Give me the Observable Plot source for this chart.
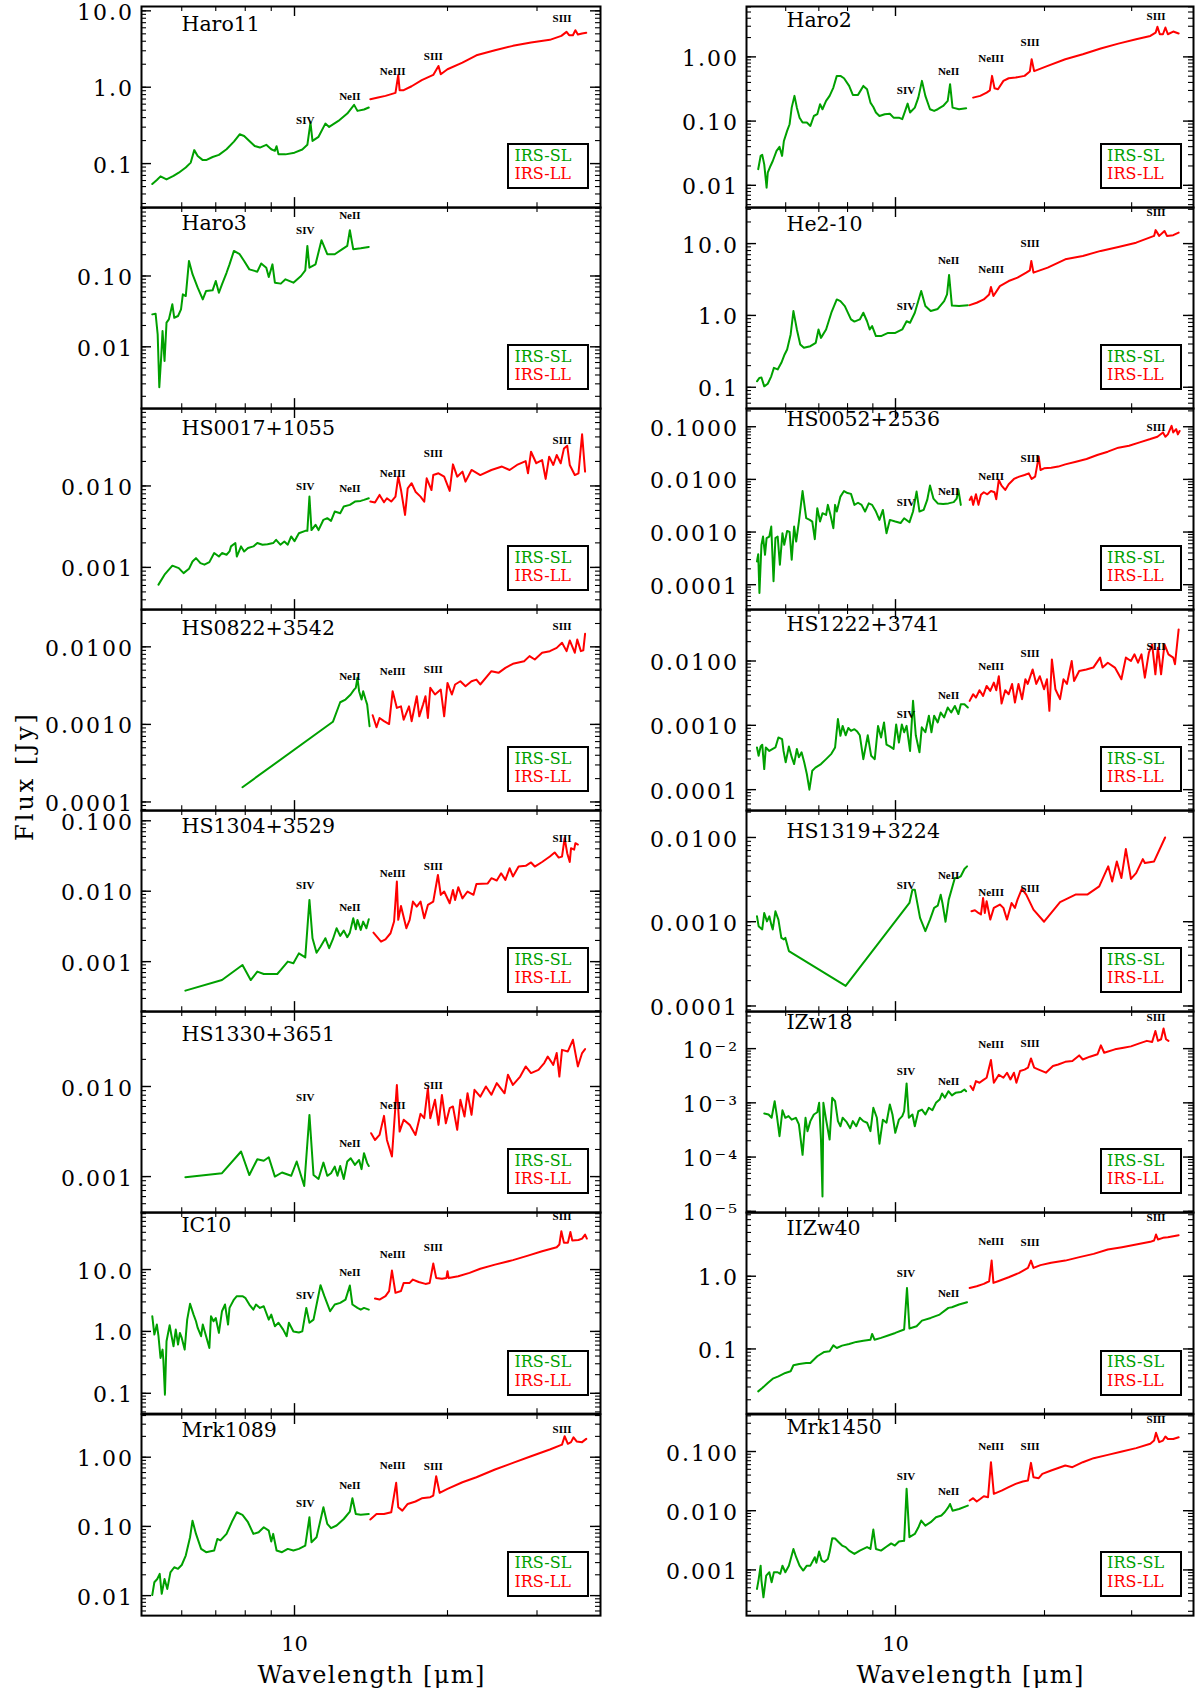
<!DOCTYPE html>
<html><head><meta charset="utf-8">
<script src="https://cdn.jsdelivr.net/npm/d3@7"></script>
<script src="https://cdn.jsdelivr.net/npm/@observablehq/plot@0.6"></script>
<style>
body{margin:0;background:#fff;}
#root{position:relative;width:1196px;height:1691px;overflow:hidden;font-family:"DejaVu Serif",serif;}
#root svg{position:absolute;}
.legend{position:absolute;box-sizing:border-box;width:82px;height:46px;border:2px solid #000;font-family:"DejaVu Serif",serif;font-size:16px;line-height:18.3px;padding:1.7px 0 0 5px;white-space:nowrap;}
.ylab{position:absolute;width:220px;height:30px;line-height:30px;text-align:center;font-family:"DejaVu Serif",serif;font-size:24px;letter-spacing:3px;transform:rotate(-90deg);transform-origin:50% 50%;}
</style></head><body><div id="root"></div>
<script>
// ---------------- data (wavelength in micron, flux in Jy) ----------------
const panelNames = ["Haro11","Haro3","HS0017+1055","HS0822+3542","HS1304+3529","HS1330+3651","IC10","Mrk1089",
                    "Haro2","He2-10","HS0052+2536","HS1222+3741","HS1319+3224","IZw18","IIZw40","Mrk1450"];
const seriesNames = ["IRS-SL","IRS-LL"];
const xMajorTicks = [10];
const xMajorLabels = ["10"];
const xMinorTicks = [6,7,8,9,20,30];
const xAxisLabel = "Wavelength [\u03bcm]";
const yAxisLabel = "Flux [Jy]";

const haro11_SL = [[5.25,0.054],[5.36,0.061],[5.45,0.068],[5.6,0.062],[5.78,0.069],[5.92,0.076],[6.11,0.089],[6.25,0.103],[6.35,0.15],[6.45,0.126],[6.6,0.111],[6.7,0.111],[6.9,0.122],[7.1,0.13],[7.35,0.154],[7.6,0.194],[7.8,0.242],[7.96,0.23],[8.15,0.198],[8.35,0.17],[8.55,0.162],[8.8,0.176],[9.0,0.154],[9.15,0.147],[9.22,0.169],[9.3,0.132],[9.6,0.132],[10.0,0.139],[10.36,0.153],[10.6,0.176],[10.75,0.344],[10.85,0.198],[11.15,0.224],[11.5,0.334],[11.7,0.302],[12.2,0.362],[12.7,0.452],[13.1,0.587],[13.3,0.49],[13.7,0.51],[14.0,0.542]];
const haro11_LL = [[14.1,0.697],[14.6,0.732],[15.1,0.77],[15.8,0.843],[16.0,1.45],[16.1,0.914],[16.4,0.914],[17.0,1.03],[17.8,1.24],[18.75,1.45],[19.2,1.9],[19.4,1.48],[20.0,1.72],[21.4,2.1],[22.8,2.62],[24.8,3.05],[26.9,3.48],[29.2,3.85],[31.8,4.17],[33.5,4.7],[34.3,5.31],[34.7,4.8],[35.3,4.8],[35.7,5.58],[36.1,4.9],[36.8,5.05],[37.5,5.15]];
const haro3_SL = [[5.25,0.0287],[5.33,0.0293],[5.38,0.015],[5.42,0.00268],[5.47,0.0078],[5.5,0.0167],[5.55,0.0063],[5.6,0.0219],[5.66,0.0244],[5.75,0.0398],[5.8,0.0257],[5.9,0.0272],[5.98,0.0337],[6.03,0.055],[6.11,0.0521],[6.2,0.163],[6.3,0.106],[6.45,0.0684],[6.6,0.0467],[6.7,0.0614],[6.9,0.0627],[7.0,0.085],[7.1,0.058],[7.2,0.0762],[7.35,0.111],[7.45,0.146],[7.6,0.226],[7.8,0.203],[7.96,0.163],[8.15,0.124],[8.45,0.115],[8.6,0.15],[8.8,0.131],[8.9,0.097],[9.05,0.146],[9.15,0.0805],[9.4,0.078],[9.6,0.0897],[9.95,0.0805],[10.3,0.1],[10.5,0.12],[10.6,0.266],[10.7,0.131],[11.0,0.146],[11.3,0.32],[11.6,0.203],[12.0,0.203],[12.4,0.238],[12.7,0.266],[12.85,0.443],[13.05,0.238],[13.5,0.246],[14.0,0.257]];
const haro3_LL = [];
const hs0017_SL = [[5.4,0.000614],[5.55,0.000813],[5.75,0.00105],[5.92,0.00098],[6.05,0.00085],[6.2,0.00096],[6.3,0.00118],[6.4,0.0013],[6.53,0.00113],[6.65,0.00108],[6.8,0.00116],[6.95,0.0015],[7.1,0.00136],[7.2,0.0015],[7.35,0.00143],[7.45,0.00157],[7.5,0.00181],[7.65,0.00199],[7.7,0.00136],[7.85,0.00181],[7.96,0.00157],[8.1,0.00173],[8.3,0.00181],[8.45,0.00199],[8.65,0.0019],[8.85,0.00192],[9.08,0.00199],[9.2,0.00218],[9.38,0.0019],[9.55,0.00208],[9.7,0.0019],[9.85,0.0024],[10.0,0.0021],[10.2,0.00263],[10.5,0.00281],[10.6,0.00281],[10.7,0.0074],[10.8,0.00287],[11.0,0.00333],[11.15,0.00287],[11.4,0.00384],[11.6,0.00402],[11.8,0.00373],[12.0,0.00485],[12.3,0.00463],[12.5,0.00558],[12.85,0.00585],[13.15,0.00643],[13.5,0.00655],[13.7,0.00674],[14.0,0.00706]];
const hs0017_LL = [[14.1,0.00643],[14.4,0.00625],[14.7,0.00776],[15.0,0.0063],[15.2,0.00706],[15.5,0.00643],[15.8,0.0074],[16.0,0.013],[16.2,0.00893],[16.5,0.00441],[16.7,0.00936],[17.0,0.0108],[17.3,0.0085],[17.7,0.0074],[18.0,0.0064],[18.2,0.0124],[18.6,0.0089],[18.75,0.0136],[19.2,0.0143],[19.7,0.013],[20.2,0.0087],[20.5,0.0184],[20.9,0.013],[21.4,0.015],[21.7,0.0113],[22.3,0.0157],[23.2,0.0136],[24.4,0.0157],[25.6,0.0173],[26.5,0.0157],[27.4,0.0181],[28.5,0.0202],[28.8,0.0143],[29.2,0.0263],[29.9,0.019],[30.7,0.0208],[31.2,0.0122],[31.7,0.0229],[32.3,0.0181],[32.8,0.024],[33.4,0.019],[33.9,0.0289],[34.4,0.0312],[34.8,0.0181],[35.6,0.0136],[36.2,0.0143],[36.8,0.043],[37.3,0.015]];
const hs0822_SL = [[7.9,0.000155],[11.9,0.00108],[12.3,0.00193],[12.6,0.00209],[12.9,0.00243],[13.1,0.00281],[13.2,0.00296],[13.3,0.00398],[13.4,0.00268],[13.55,0.00209],[13.65,0.00268],[13.8,0.00209],[13.9,0.0018],[14.05,0.000946]];
const hs0822_LL = [[14.25,0.00131],[14.5,0.000918],[14.7,0.00121],[15.0,0.0011],[15.35,0.00101],[15.6,0.00268],[15.9,0.00163],[16.2,0.00171],[16.4,0.00115],[16.8,0.00171],[17.0,0.0011],[17.4,0.00231],[17.6,0.00127],[17.9,0.0018],[18.1,0.00231],[18.3,0.00121],[18.5,0.00296],[18.9,0.00243],[19.4,0.00281],[19.7,0.00127],[20.0,0.00343],[20.4,0.00243],[20.7,0.00327],[21.2,0.0036],[21.7,0.00311],[22.3,0.0036],[22.8,0.00378],[23.2,0.00327],[24.4,0.00485],[25.2,0.00462],[26.0,0.00536],[26.9,0.00604],[28.3,0.00653],[29.0,0.00759],[29.7,0.00686],[30.7,0.00837],[31.8,0.00879],[32.8,0.0097],[33.6,0.0113],[34.3,0.0088],[34.8,0.0121],[35.6,0.0084],[36.0,0.0124],[36.6,0.0088],[37.0,0.009],[37.3,0.0147]];
const hs1304_SL = [[6.1,0.000387],[7.2,0.000548],[7.9,0.000897],[8.2,0.000548],[8.45,0.000721],[8.7,0.000668],[9.25,0.000668],[9.4,0.000762],[9.7,0.001],[9.95,0.00095],[10.2,0.00131],[10.5,0.00115],[10.7,0.00753],[10.85,0.00215],[11.05,0.00134],[11.25,0.00163],[11.45,0.00203],[11.5,0.00215],[11.7,0.00155],[11.9,0.00208],[12.1,0.00298],[12.3,0.00232],[12.5,0.00276],[12.7,0.00222],[12.85,0.00258],[13.05,0.00413],[13.2,0.00288],[13.3,0.00391],[13.5,0.00282],[13.65,0.0037],[13.85,0.00298],[14.0,0.004]];
const hs1304_LL = [[14.3,0.00258],[14.8,0.00192],[15.1,0.00207],[15.45,0.00253],[15.7,0.00371],[15.9,0.0137],[16.0,0.00392],[16.2,0.00617],[16.6,0.00298],[16.85,0.00392],[17.1,0.00713],[17.4,0.00605],[17.7,0.00713],[18.0,0.00413],[18.3,0.00639],[18.75,0.0071],[19.15,0.017],[19.4,0.00887],[19.7,0.0099],[20.2,0.00675],[20.5,0.0104],[20.7,0.0075],[21.0,0.0114],[21.4,0.0079],[21.9,0.0099],[22.5,0.0089],[22.8,0.0127],[24.0,0.0129],[24.4,0.0153],[25.0,0.0142],[25.5,0.018],[26.0,0.0145],[26.5,0.0212],[26.9,0.0162],[27.6,0.0224],[28.5,0.0229],[29.2,0.0256],[29.7,0.0224],[30.7,0.026],[31.8,0.0311],[32.5,0.0355],[33.1,0.03],[33.6,0.031],[34.0,0.0568],[34.4,0.0347],[34.8,0.026],[35.0,0.0408],[35.5,0.039],[35.7,0.0481],[36.1,0.046]];
const hs1330_SL = [[6.1,0.000985],[7.2,0.00109],[7.85,0.0019],[8.15,0.00104],[8.45,0.00156],[8.7,0.0015],[8.9,0.00164],[9.15,0.001],[9.45,0.00111],[9.85,0.00102],[10.1,0.00147],[10.45,0.000787],[10.7,0.00484],[10.9,0.00104],[11.15,0.00094],[11.4,0.00143],[11.6,0.00102],[11.8,0.00109],[12.0,0.00129],[12.15,0.00102],[12.3,0.00131],[12.5,0.00094],[12.7,0.00147],[12.9,0.0016],[13.15,0.00135],[13.4,0.00153],[13.55,0.00121],[13.7,0.00182],[13.9,0.00141],[14.0,0.00131]];
const hs1330_LL = [[14.15,0.00303],[14.4,0.00255],[14.7,0.0029],[15.0,0.00472],[15.2,0.00255],[15.55,0.00167],[15.9,0.0104],[16.1,0.00316],[16.4,0.00427],[16.85,0.00375],[17.3,0.0029],[17.7,0.00497],[18.0,0.00445],[18.3,0.00958],[18.5,0.00445],[18.9,0.00711],[19.2,0.00375],[19.5,0.00807],[19.85,0.0039],[20.2,0.00574],[20.5,0.006],[20.9,0.0033],[21.2,0.00711],[21.6,0.00464],[21.9,0.00844],[22.3,0.00484],[22.6,0.00918],[23.2,0.0077],[23.8,0.01],[24.4,0.0081],[25.0,0.0109],[25.9,0.0084],[26.3,0.0135],[26.9,0.0104],[27.8,0.0129],[28.5,0.0167],[29.2,0.0141],[30.2,0.0153],[31.0,0.0182],[31.5,0.0215],[32.3,0.0174],[32.8,0.0235],[33.2,0.0129],[33.6,0.0255],[34.5,0.0245],[35.3,0.033],[36.1,0.0167],[36.8,0.0235],[37.3,0.026]];
const ic10_SL = [[5.25,1.76],[5.3,0.89],[5.36,1.29],[5.4,0.836],[5.45,0.373],[5.5,0.508],[5.52,0.35],[5.56,0.095],[5.6,0.693],[5.68,1.26],[5.73,0.84],[5.78,0.575],[5.84,1.07],[5.9,0.612],[5.95,0.946],[6.0,0.785],[6.08,0.508],[6.15,1.55],[6.23,2.79],[6.33,1.87],[6.4,1.46],[6.45,1.14],[6.55,0.836],[6.6,1.29],[6.7,0.836],[6.8,0.541],[6.85,1.76],[6.93,1.46],[7.0,1.65],[7.1,0.946],[7.2,2.12],[7.3,2.72],[7.4,1.29],[7.45,2.4],[7.6,3.27],[7.7,3.71],[7.9,3.71],[8.0,3.5],[8.15,2.72],[8.3,2.25],[8.4,2.72],[8.55,2.4],[8.7,2.55],[8.9,1.55],[9.0,1.87],[9.15,1.21],[9.3,1.38],[9.5,1.07],[9.65,0.836],[9.75,1.38],[9.95,1.0],[10.2,0.96],[10.36,1.0],[10.55,2.4],[10.7,1.38],[10.9,1.55],[11.25,5.59],[11.45,3.71],[11.75,2.12],[12.0,2.72],[12.3,2.89],[12.6,3.27],[12.85,5.51],[13.0,2.72],[13.3,2.4],[13.5,2.25],[13.7,2.4],[14.0,2.25]];
const ic10_LL = [[14.4,3.4],[14.7,3.27],[15.1,3.71],[15.35,4.47],[15.55,9.64],[15.8,4.2],[16.2,4.5],[16.4,6.08],[16.85,6.08],[17.1,6.89],[17.55,6.3],[18.1,5.86],[18.45,6.08],[18.75,12.5],[19.0,7.33],[19.5,7.1],[19.9,7.33],[20.0,9.4],[20.1,7.33],[21.0,7.8],[22.1,8.83],[23.2,10.3],[24.8,12.0],[26.9,14.2],[28.8,16.8],[30.7,19.8],[32.8,22.9],[33.2,25.4],[33.5,41.7],[33.9,27],[34.5,27],[34.9,40.6],[35.2,29.4],[36.2,30],[36.8,31.7],[37.3,36.8],[37.6,31.7]];
const mrk1089_SL = [[5.25,0.0102],[5.3,0.0156],[5.37,0.0174],[5.43,0.0206],[5.48,0.0106],[5.55,0.0174],[5.62,0.0125],[5.7,0.0217],[5.8,0.0257],[5.9,0.0244],[6.0,0.0277],[6.11,0.0379],[6.23,0.0697],[6.3,0.121],[6.4,0.078],[6.55,0.0473],[6.7,0.0424],[6.95,0.0448],[7.05,0.066],[7.15,0.0627],[7.35,0.078],[7.55,0.121],[7.7,0.16],[7.9,0.147],[8.1,0.115],[8.3,0.078],[8.5,0.0825],[8.7,0.0973],[8.9,0.0868],[9.0,0.0604],[9.08,0.078],[9.22,0.0448],[9.45,0.0424],[9.7,0.0473],[9.95,0.0448],[10.2,0.0473],[10.5,0.0528],[10.7,0.136],[10.8,0.059],[11.05,0.0697],[11.4,0.189],[11.6,0.109],[11.8,0.0944],[12.1,0.103],[12.5,0.128],[12.85,0.164],[13.0,0.255],[13.2,0.151],[13.5,0.147],[14.0,0.151]];
const mrk1089_LL = [[14.1,0.126],[14.5,0.151],[15.0,0.151],[15.5,0.16],[15.85,0.426],[16.0,0.189],[16.3,0.169],[16.7,0.211],[17.3,0.229],[17.8,0.255],[18.5,0.264],[18.75,0.279],[19.0,0.531],[19.3,0.305],[20.0,0.348],[21.4,0.435],[22.8,0.514],[24.8,0.664],[26.9,0.828],[29.2,1.03],[31.8,1.29],[33.6,1.52],[34.0,2.01],[34.5,1.56],[35.0,1.65],[35.4,1.94],[35.9,1.69],[36.8,1.65],[37.5,1.84]];
const haro2_SL = [[5.28,0.0178],[5.34,0.0287],[5.38,0.0298],[5.43,0.0212],[5.49,0.0092],[5.52,0.0157],[5.59,0.02],[5.65,0.0239],[5.75,0.0343],[5.83,0.0396],[5.9,0.0287],[5.95,0.049],[6.04,0.0703],[6.11,0.0893],[6.17,0.162],[6.25,0.247],[6.32,0.162],[6.4,0.113],[6.49,0.0948],[6.62,0.0948],[6.73,0.0841],[6.84,0.12],[6.95,0.128],[7.04,0.183],[7.12,0.153],[7.24,0.206],[7.36,0.247],[7.49,0.333],[7.61,0.506],[7.74,0.506],[7.87,0.465],[8.06,0.353],[8.2,0.256],[8.4,0.256],[8.61,0.353],[8.76,0.313],[8.9,0.194],[9.02,0.166],[9.13,0.136],[9.28,0.12],[9.51,0.128],[9.74,0.13],[9.91,0.113],[10.16,0.113],[10.32,0.107],[10.46,0.144],[10.58,0.187],[10.7,0.136],[10.94,0.162],[11.12,0.232],[11.31,0.423],[11.49,0.247],[11.74,0.153],[11.97,0.144],[12.17,0.153],[12.48,0.172],[12.75,0.206],[12.89,0.375],[13.04,0.162],[13.44,0.153],[13.89,0.158]];
const haro2_LL = [[14.35,0.232],[14.83,0.247],[15.28,0.278],[15.51,0.3],[15.67,0.506],[15.85,0.325],[16.11,0.314],[16.52,0.423],[16.93,0.465],[17.49,0.476],[18.23,0.506],[18.68,0.591],[18.84,0.92],[19.06,0.6],[20.3,0.724],[22.03,0.92],[23.9,1.1],[25.98,1.35],[28.2,1.61],[30.63,1.88],[32.72,2.12],[33.54,2.39],[33.82,2.94],[34.2,2.25],[34.7,2.25],[35.1,2.87],[35.5,2.25],[36.4,2.48],[37.33,2.31]];
const he210_SL = [[5.25,0.121],[5.31,0.135],[5.36,0.137],[5.43,0.103],[5.52,0.112],[5.61,0.142],[5.68,0.186],[5.78,0.177],[5.88,0.219],[5.97,0.286],[6.04,0.336],[6.14,0.543],[6.22,1.15],[6.32,0.638],[6.42,0.394],[6.53,0.354],[6.73,0.373],[6.9,0.416],[6.99,0.638],[7.07,0.487],[7.24,0.638],[7.42,1.09],[7.61,1.67],[7.74,1.58],[7.9,1.35],[8.13,0.879],[8.26,0.82],[8.47,0.879],[8.61,1.09],[8.76,0.83],[8.87,0.638],[8.97,0.71],[9.13,0.515],[9.35,0.515],[9.66,0.57],[9.99,0.57],[10.32,0.638],[10.53,0.83],[10.7,0.79],[10.94,1.09],[11.27,2.19],[11.49,1.35],[11.78,1.15],[12.17,1.23],[12.54,1.58],[12.71,1.96],[12.83,3.66],[13.0,1.37],[13.44,1.35],[14.0,1.39]];
const he210_LL = [[14.12,1.39],[14.59,1.5],[15.08,1.67],[15.46,1.96],[15.59,2.48],[15.77,1.86],[16.25,2.56],[16.93,3.01],[17.64,3.36],[18.37,3.94],[18.68,4.24],[18.81,5.73],[19.0,3.94],[20.3,4.63],[22.03,6.04],[23.9,6.73],[25.98,7.91],[28.2,8.98],[30.63,10.3],[33.3,12.8],[33.54,15.4],[34.1,12.8],[34.95,15.0],[35.35,12.8],[36.4,13.1],[37.33,14.2]];
const hs0052_SL = [[5.25,0.000277],[5.28,0.00038],[5.31,0.0000695],[5.36,0.000571],[5.4,0.000822],[5.45,0.00037],[5.49,0.000766],[5.56,0.000822],[5.61,0.00127],[5.67,0.000116],[5.72,0.000766],[5.78,0.000822],[5.84,0.000239],[5.91,0.000953],[5.96,0.000571],[6.04,0.00105],[6.11,0.001],[6.17,0.000297],[6.24,0.00127],[6.3,0.00066],[6.38,0.00158],[6.49,0.006],[6.6,0.00183],[6.71,0.0017],[6.79,0.00158],[6.87,0.000733],[6.95,0.00283],[7.04,0.00158],[7.12,0.00228],[7.24,0.00211],[7.3,0.00328],[7.39,0.00211],[7.49,0.00118],[7.55,0.00328],[7.61,0.00245],[7.74,0.00471],[7.87,0.006],[8.0,0.0055],[8.13,0.0053],[8.26,0.00328],[8.4,0.0036],[8.54,0.00328],[8.68,0.00245],[8.83,0.0035],[8.97,0.00328],[9.13,0.00245],[9.28,0.0017],[9.43,0.00263],[9.59,0.000953],[9.74,0.0017],[9.99,0.00158],[10.24,0.00148],[10.41,0.00183],[10.67,0.00153],[10.85,0.00245],[11.03,0.00586],[11.18,0.00245],[11.4,0.00263],[11.59,0.00407],[11.74,0.00762],[11.93,0.00432],[12.17,0.0035],[12.48,0.0034],[12.79,0.0035],[13.11,0.0037],[13.29,0.0043],[13.4,0.0063],[13.55,0.00328]];
const hs0052_LL = [[14.12,0.00407],[14.24,0.00471],[14.35,0.00328],[14.54,0.0052],[14.71,0.00328],[14.88,0.0051],[15.08,0.0057],[15.33,0.0052],[15.59,0.006],[15.85,0.0057],[15.98,0.0042],[16.17,0.00975],[16.38,0.0076],[16.66,0.0063],[16.93,0.0081],[17.35,0.0102],[17.78,0.0113],[18.23,0.0121],[18.59,0.013],[18.84,0.0102],[19.15,0.0113],[19.47,0.027],[19.63,0.0151],[19.96,0.0162],[20.63,0.0167],[21.32,0.0175],[22.03,0.0193],[23.15,0.0217],[24.32,0.0244],[25.56,0.029],[26.85,0.0336],[28.2,0.04],[29.64,0.0436],[31.14,0.0505],[32.72,0.0583],[33.82,0.0647],[34.7,0.078],[35.1,0.0647],[35.5,0.0716],[36.12,0.104],[36.4,0.078],[36.9,0.09],[37.2,0.0716],[37.5,0.083]];
const hs1222_SL = [[5.25,0.000453],[5.29,0.000336],[5.34,0.00047],[5.38,0.0005],[5.43,0.000209],[5.47,0.000453],[5.56,0.0004],[5.65,0.00043],[5.72,0.000453],[5.8,0.000647],[5.9,0.00061],[5.94,0.0004],[6.0,0.000266],[6.09,0.00047],[6.17,0.00032],[6.24,0.00025],[6.32,0.00043],[6.38,0.00032],[6.46,0.00038],[6.54,0.000266],[6.62,0.000175],[6.7,0.0001],[6.79,0.000197],[6.89,0.00022],[7.07,0.00025],[7.24,0.000298],[7.42,0.00036],[7.55,0.000453],[7.65,0.00125],[7.74,0.000687],[7.82,0.00098],[7.93,0.0007],[8.03,0.00091],[8.13,0.00082],[8.26,0.00087],[8.37,0.0008],[8.47,0.0007],[8.61,0.000298],[8.79,0.0007],[8.93,0.000336],[9.08,0.000298],[9.22,0.00098],[9.35,0.000647],[9.48,0.00111],[9.59,0.0005],[9.74,0.00047],[9.91,0.00043],[10.03,0.00103],[10.16,0.00054],[10.3,0.00103],[10.41,0.00078],[10.53,0.00098],[10.7,0.0004],[10.85,0.0024],[10.99,0.0007],[11.18,0.00038],[11.3,0.00093],[11.49,0.00078],[11.68,0.00141],[11.82,0.00078],[11.97,0.00141],[12.17,0.00111],[12.34,0.00158],[12.54,0.00133],[12.75,0.00189],[12.96,0.00158],[13.18,0.002],[13.4,0.0015],[13.55,0.00213],[13.78,0.00213],[14.0,0.00189]];
const hs1222_LL = [[14.12,0.0024],[14.35,0.00304],[14.54,0.0027],[14.78,0.00351],[15.03,0.00287],[15.28,0.0041],[15.54,0.00343],[15.8,0.00461],[15.98,0.00351],[16.17,0.0058],[16.38,0.00218],[16.66,0.00351],[16.93,0.00304],[17.2,0.0044],[17.43,0.00226],[17.72,0.0044],[18.02,0.00255],[18.3,0.0052],[18.5,0.0044],[18.93,0.0074],[19.25,0.0044],[19.57,0.0058],[19.96,0.00364],[20.23,0.0052],[20.46,0.00168],[20.7,0.0106],[21.04,0.00364],[21.5,0.00255],[21.85,0.0052],[22.2,0.0044],[22.7,0.01],[22.95,0.0049],[23.5,0.007],[24.3,0.0074],[25.1,0.0079],[25.9,0.0113],[26.2,0.0079],[26.85,0.0094],[27.75,0.0079],[28.6,0.0052],[29.2,0.0113],[29.9,0.01],[30.4,0.0127],[30.9,0.0094],[31.4,0.0127],[31.9,0.0055],[32.5,0.0135],[33.0,0.0181],[33.5,0.0062],[33.9,0.0161],[34.4,0.0062],[34.95,0.0181],[35.6,0.0127],[36.4,0.0113],[36.7,0.0089],[37.33,0.031]];
const hs1319_SL = [[5.25,0.00116],[5.29,0.000885],[5.38,0.00081],[5.43,0.00127],[5.5,0.00101],[5.56,0.00116],[5.61,0.00093],[5.65,0.00081],[5.72,0.00133],[5.8,0.00106],[5.88,0.000644],[5.95,0.000616],[5.99,0.000644],[6.09,0.000448],[7.93,0.000173],[10.67,0.00167],[10.82,0.0024],[10.94,0.0024],[11.21,0.00111],[11.49,0.000773],[11.74,0.00106],[11.97,0.00146],[12.17,0.00155],[12.34,0.00209],[12.44,0.00167],[12.62,0.001],[12.81,0.00183],[13.18,0.0033],[13.33,0.0033],[13.55,0.00346],[13.78,0.00422],[13.95,0.00454]];
const hs1319_LL = [[14.24,0.00133],[14.47,0.00137],[14.71,0.00127],[14.88,0.00122],[15.03,0.00191],[15.15,0.00127],[15.28,0.00175],[15.54,0.00106],[15.8,0.00146],[16.25,0.0016],[16.52,0.00146],[16.8,0.00106],[17.16,0.00167],[17.43,0.00146],[17.64,0.00183],[18.0,0.00245],[18.37,0.0021],[19.0,0.00139],[19.96,0.001],[21.5,0.00171],[23.1,0.0021],[24.4,0.0021],[25.8,0.00263],[26.9,0.00454],[27.4,0.003],[28.0,0.0052],[28.6,0.0033],[29.2,0.00728],[29.9,0.00322],[30.63,0.00378],[31.6,0.00554],[31.9,0.00497],[33.3,0.0052],[35.05,0.01]];
const izw18_SL = [[5.43,0.000634],[5.54,0.00061],[5.62,0.00053],[5.7,0.00107],[5.76,0.00057],[5.83,0.000242],[5.91,0.00073],[5.99,0.00053],[6.08,0.00057],[6.17,0.00049],[6.29,0.00053],[6.38,0.0004],[6.49,0.00011],[6.58,0.00053],[6.64,0.0003],[6.73,0.00046],[6.84,0.00061],[6.95,0.00067],[7.01,0.001],[7.07,0.00021],[7.12,0.0000187],[7.15,0.001],[7.24,0.00049],[7.36,0.00021],[7.45,0.00124],[7.55,0.00107],[7.65,0.00046],[7.74,0.00037],[7.82,0.00053],[7.97,0.00044],[8.1,0.00034],[8.2,0.00046],[8.33,0.00037],[8.47,0.00053],[8.61,0.00046],[8.76,0.00043],[8.9,0.0003],[9.02,0.00081],[9.17,0.00053],[9.28,0.000176],[9.43,0.00049],[9.59,0.00043],[9.74,0.00093],[9.86,0.00061],[9.99,0.00028],[10.16,0.00049],[10.32,0.00057],[10.41,0.0007],[10.53,0.00228],[10.64,0.00053],[10.82,0.00061],[10.94,0.00037],[11.12,0.0007],[11.31,0.00075],[11.49,0.00061],[11.68,0.00081],[11.87,0.00073],[12.07,0.001],[12.28,0.00115],[12.42,0.00149],[12.58,0.00124],[12.79,0.00164],[13.0,0.00137],[13.22,0.00153],[13.55,0.00158],[13.78,0.00176],[13.89,0.00164]];
const izw18_LL = [[14.17,0.00204],[14.35,0.00172],[14.54,0.00252],[14.78,0.00235],[15.03,0.00263],[15.28,0.0029],[15.59,0.00616],[15.8,0.00235],[16.17,0.0033],[16.52,0.0029],[16.8,0.00359],[17.07,0.0027],[17.35,0.00359],[17.55,0.00235],[17.85,0.00386],[18.23,0.0041],[18.52,0.00445],[18.78,0.0066],[19.06,0.00445],[19.47,0.0041],[20.13,0.0036],[20.8,0.00477],[21.32,0.0051],[22.03,0.0057],[22.77,0.0059],[23.5,0.0075],[23.9,0.0063],[24.7,0.0071],[25.6,0.0079],[26.0,0.0115],[26.4,0.0084],[27.75,0.0097],[28.9,0.0104],[29.9,0.011],[31.1,0.0125],[32.2,0.0139],[33.0,0.0133],[33.5,0.0212],[33.9,0.0139],[34.4,0.0149],[34.8,0.0235],[35.2,0.0149],[35.6,0.0139]];
const iizw40_SL = [[5.28,0.0261],[5.38,0.029],[5.52,0.034],[5.65,0.039],[5.8,0.042],[5.99,0.0468],[6.14,0.0493],[6.22,0.0596],[6.39,0.0622],[6.6,0.0641],[6.73,0.0641],[6.95,0.0793],[7.18,0.0909],[7.36,0.0929],[7.49,0.112],[7.61,0.103],[7.8,0.111],[8.06,0.117],[8.33,0.125],[8.61,0.13],[8.9,0.134],[8.97,0.161],[9.07,0.134],[9.35,0.142],[9.66,0.153],[9.99,0.166],[10.41,0.185],[10.55,0.69],[10.67,0.191],[11.03,0.205],[11.31,0.245],[11.78,0.267],[12.28,0.297],[12.79,0.367],[13.0,0.375],[13.44,0.408],[13.95,0.439]];
const iizw40_LL = [[14.12,0.69],[14.59,0.728],[15.08,0.784],[15.46,0.853],[15.64,1.64],[15.77,0.81],[16.11,0.853],[16.93,0.969],[17.78,1.11],[18.52,1.3],[18.78,1.64],[19.0,1.3],[19.63,1.42],[20.63,1.53],[22.03,1.64],[23.53,1.83],[25.14,2.03],[26.85,2.33],[28.68,2.51],[30.63,2.73],[32.72,2.97],[33.3,3.1],[33.6,3.74],[33.9,3.2],[34.7,3.37],[35.5,3.44],[36.4,3.55],[37.33,3.67]];
const mrk1450_SL = [[5.25,0.000478],[5.29,0.000687],[5.34,0.00118],[5.36,0.00066],[5.41,0.000345],[5.48,0.0008],[5.56,0.000913],[5.62,0.00062],[5.68,0.000913],[5.78,0.000913],[5.85,0.00086],[5.91,0.00118],[5.99,0.000913],[6.09,0.00118],[6.22,0.00226],[6.3,0.00164],[6.4,0.00118],[6.51,0.000975],[6.62,0.00118],[6.73,0.00118],[6.87,0.00164],[6.92,0.00132],[7.01,0.00204],[7.09,0.00145],[7.18,0.00136],[7.3,0.00153],[7.36,0.002],[7.45,0.00343],[7.55,0.0034],[7.67,0.00297],[7.8,0.00258],[7.93,0.00243],[8.06,0.00212],[8.26,0.00186],[8.47,0.00212],[8.76,0.00243],[8.9,0.00226],[9.02,0.00481],[9.13,0.00226],[9.35,0.00212],[9.66,0.00258],[9.8,0.0028],[9.97,0.00258],[10.16,0.00302],[10.41,0.0031],[10.53,0.0234],[10.67,0.00358],[10.94,0.00405],[11.12,0.0052],[11.27,0.00683],[11.49,0.0056],[11.78,0.0064],[12.07,0.00775],[12.38,0.0083],[12.58,0.0095],[12.79,0.0115],[12.89,0.013],[13.04,0.01],[13.44,0.0107],[14.0,0.0122]];
const mrk1450_LL = [[14.12,0.0149],[14.35,0.0163],[14.59,0.0143],[14.83,0.0158],[15.08,0.0176],[15.38,0.0169],[15.59,0.066],[15.8,0.0193],[16.38,0.0219],[16.93,0.025],[17.49,0.0284],[18.08,0.0311],[18.52,0.0324],[18.78,0.0643],[19.0,0.0368],[19.47,0.0354],[19.8,0.0419],[20.63,0.0477],[22.03,0.058],[22.77,0.0544],[23.9,0.066],[25.14,0.0772],[26.85,0.0878],[28.68,0.1],[30.63,0.114],[32.72,0.135],[33.3,0.153],[33.6,0.207],[34.1,0.144],[34.7,0.153],[35.1,0.179],[35.5,0.163],[36.4,0.163],[37.33,0.174]];

const slSeries = [haro11_SL,haro3_SL,hs0017_SL,hs0822_SL,hs1304_SL,hs1330_SL,ic10_SL,mrk1089_SL,haro2_SL,he210_SL,hs0052_SL,hs1222_SL,hs1319_SL,izw18_SL,iizw40_SL,mrk1450_SL];
const llSeries = [haro11_LL,haro3_LL,hs0017_LL,hs0822_LL,hs1304_LL,hs1330_LL,ic10_LL,mrk1089_LL,haro2_LL,he210_LL,hs0052_LL,hs1222_LL,hs1319_LL,izw18_LL,iizw40_LL,mrk1450_LL];

// emission-line annotations: [label, wavelength, flux]
const lineLabels = [
  [["SIV",10.5,0.362],["NeII",12.85,0.755],["NeIII",15.6,1.59],["SIII",18.75,2.5],["SIII",33.6,7.9]],
  [["SIV",10.5,0.433],["NeII",12.85,0.72]],
  [["SIV",10.5,0.0098],["NeII",12.85,0.0092],["NeIII",15.6,0.0143],["SIII",18.75,0.0247],["SIII",33.6,0.0366]],
  [["NeII",12.85,0.00418],["NeIII",15.6,0.00485],["SIII",18.75,0.0051],["SIII",33.6,0.0185]],
  [["SIV",10.5,0.0119],["NeII",12.85,0.00593],["NeIII",15.6,0.018],["SIII",18.75,0.0224],["SIII",33.6,0.0555]],
  [["SIV",10.5,0.00755],["NeII",12.85,0.00231],["NeIII",15.6,0.0061],["SIII",18.75,0.0102]],
  [["SIV",10.5,3.85],["NeII",12.85,9.05],["NeIII",15.6,17.5],["SIII",18.75,23],["SIII",33.6,73]],
  [["SIV",10.5,0.216],["NeII",12.85,0.389],["NeIII",15.6,0.758],["SIII",18.75,0.741],["SIII",33.6,2.51]],
  [["SIV",10.5,0.303],["NeII",12.8,0.591],["NeIII",15.6,0.942],["SIII",18.7,1.67],["SIII",33.6,4.2]],
  [["SIV",10.5,1.35],["NeII",12.8,5.73],["NeIII",15.6,4.39],["SIII",18.7,10.0],["SIII",33.6,27.1]],
  [["SIV",10.5,0.00368],["NeII",12.8,0.006],["NeIII",15.6,0.0113],["SIII",18.7,0.0251],["SIII",33.6,0.0957]],
  [["SIV",10.5,0.00149],["NeII",12.8,0.00294],["NeIII",15.6,0.00836],["SIII",18.7,0.013],["SIII",33.6,0.0171]],
  [["SIV",10.5,0.0027],["NeII",12.8,0.00355],["NeIII",15.6,0.00223],["SIII",18.7,0.00245]],
  [["SIV",10.5,0.00375],["NeII",12.8,0.00252],["NeIII",15.6,0.0117],["SIII",18.7,0.0124],["SIII",33.6,0.0375]],
  [["SIV",10.5,1.08],["NeII",12.8,0.577],["NeIII",15.6,2.97],["SIII",18.7,2.94],["SIII",33.6,6.49]],
  [["SIV",10.5,0.0383],["NeII",12.8,0.0211],["NeIII",15.6,0.122],["SIII",18.7,0.122],["SIII",33.6,0.343]]
];

const yDomains = [[0.0265,11.4],[0.00134,0.927],[0.000303,0.0893],[0.0000773,0.0303],[0.000195,0.14],[0.000398,0.068],[0.0469,83.6],[0.00514,4.14],
                  [0.00449,6.09],[0.0504,31.8],[0.0000336,0.222],[0.0000472,0.0632],[0.0000857,0.0209],[0.00000944,0.0484],[0.0129,7.52],[0.000169,0.422]];
const yTickValues = [[10,1,0.1],[0.1,0.01],[0.01,0.001],[0.01,0.001,0.0001],[0.1,0.01,0.001],[0.01,0.001],[10,1,0.1],[1,0.1,0.01],
                     [1,0.1,0.01],[10,1,0.1],[0.1,0.01,0.001,0.0001],[0.01,0.001,0.0001],[0.01,0.001,0.0001],[0.01,0.001,0.0001,0.00001],[1,0.1],[0.1,0.01,0.001]];
const yTickLabels = [["10.0","1.0","0.1"],["0.10","0.01"],["0.010","0.001"],["0.0100","0.0010","0.0001"],["0.100","0.010","0.001"],["0.010","0.001"],["10.0","1.0","0.1"],["1.00","0.10","0.01"],
                     ["1.00","0.10","0.01"],["10.0","1.0","0.1"],["0.1000","0.0100","0.0010","0.0001"],["0.0100","0.0010","0.0001"],["0.0100","0.0010","0.0001"],["10\u207b\u00b2","10\u207b\u00b3","10\u207b\u2074","10\u207b\u2075"],["1.0","0.1"],["0.100","0.010","0.001"]];

// ---------------- layout ----------------
const GREEN = "#00a000", RED = "#ff0000";
const seriesColors = [GREEN, RED];
const titleOffsets = [24.3,22.6,26.7,25,22.7,29,19.5,22,20.3,23.3,17.4,21,27,17.7,22.8,19.6];
const colX = [141.1, 745.8], colW = [459, 447];
const top0 = 5.7, rowH = 201.125;
const mL = 130, mR = 14, mT = 14, mB = 14, mBlast = 80;
const root = document.getElementById("root");

panelNames.forEach((name, i) => {
  const col = Math.floor(i / 8), row = i % 8;
  const W = colW[col], H = rowH;
  const last = row === 7;
  const marginBottom = last ? mBlast : mB;
  const ydom = yDomains[i];
  const yMinor = d3.scaleLog().domain(ydom).ticks();
  const majors = yTickValues[i];
  const labs = yTickLabels[i];
  const marks = [
    Plot.tickY(yMinor, {y: d => d, insetRight: W - 5, strokeWidth: 1.1}),
    Plot.tickY(yMinor, {y: d => d, insetLeft: W - 5, strokeWidth: 1.1}),
    Plot.tickY(majors, {y: d => d, insetRight: W - 10, strokeWidth: 1.4}),
    Plot.tickY(majors, {y: d => d, insetLeft: W - 10, strokeWidth: 1.4}),
    Plot.tickX(xMinorTicks, {x: d => d, insetBottom: H - 5, strokeWidth: 1.1}),
    Plot.tickX(xMinorTicks, {x: d => d, insetTop: H - 5, strokeWidth: 1.1}),
    Plot.tickX(xMajorTicks, {x: d => d, insetBottom: H - 10, strokeWidth: 1.4}),
    Plot.tickX(xMajorTicks, {x: d => d, insetTop: H - 10, strokeWidth: 1.4}),
    Plot.line(slSeries[i], {x: d => d[0], y: d => d[1], stroke: GREEN, strokeWidth: 2, clip: true}),
    Plot.line(llSeries[i], {x: d => d[0], y: d => d[1], stroke: RED, strokeWidth: 2, clip: true}),
    Plot.text(lineLabels[i], {x: d => d[1], y: d => d[2], text: d => d[0], fontFamily: "Liberation Serif", fontWeight: "bold", fontSize: 11, fill: "#000"}),
    Plot.text(majors, {y: d => d, text: (d, j) => labs[j], frameAnchor: "left", textAnchor: "end", dx: -7.5, dy: 2, fontSize: 22, fontFamily: "DejaVu Serif", fill: "#000"}),
    Plot.text([name], {text: d => d, frameAnchor: "top-left", dx: 40, dy: titleOffsets[i], textAnchor: "start", lineAnchor: "bottom", fontSize: 20.5, fontFamily: "DejaVu Serif", fill: "#000"}),
    Plot.frame({stroke: "#000", strokeWidth: 2})
  ];
  if (last) {
    marks.push(Plot.text(xMajorTicks, {x: d => d, text: (d, j) => xMajorLabels[j], frameAnchor: "bottom", dy: 35.3, lineAnchor: "bottom", fontSize: 21, fontFamily: "DejaVu Serif", fill: "#000"}));
    marks.push(Plot.text([xAxisLabel], {text: d => d, frameAnchor: "bottom", dy: 67.3, dx: 0.7, lineAnchor: "bottom", fontSize: 24, fontFamily: "DejaVu Serif", fill: "#000"}));
  }
  const svg = Plot.plot({
    width: W + mL + mR, height: H + mT + marginBottom,
    marginLeft: mL, marginRight: mR, marginTop: mT, marginBottom,
    x: {type: "log", domain: [5, 40], axis: null},
    y: {type: "log", domain: ydom, axis: null},
    style: "background:transparent;overflow:visible;",
    marks
  });
  // wide-glyph look of the original tick labels / axis label
  svg.querySelectorAll("text").forEach(t => {
    const s = t.textContent;
    if (labs.includes(s)) t.style.letterSpacing = "2px";
    else if (s === xAxisLabel) t.style.letterSpacing = "1.4px";
  });
  svg.style.left = (colX[col] - mL) + "px";
  svg.style.top = (top0 + row * H - mT) + "px";
  root.appendChild(svg);

  const lg = document.createElement("div");
  lg.className = "legend";
  lg.style.left = (colX[col] + W - 92.7) + "px";
  lg.style.top = (top0 + row * H + H - 64) + "px";
  seriesNames.forEach((s, k) => {
    const d = document.createElement("div");
    d.textContent = s;
    d.style.color = seriesColors[k];
    lg.appendChild(d);
  });
  root.appendChild(lg);
});

const yl = document.createElement("div");
yl.className = "ylab";
yl.textContent = yAxisLabel;
yl.style.left = (25 - 110) + "px";
yl.style.top = (776 - 15) + "px";
root.appendChild(yl);
</script></body></html>
